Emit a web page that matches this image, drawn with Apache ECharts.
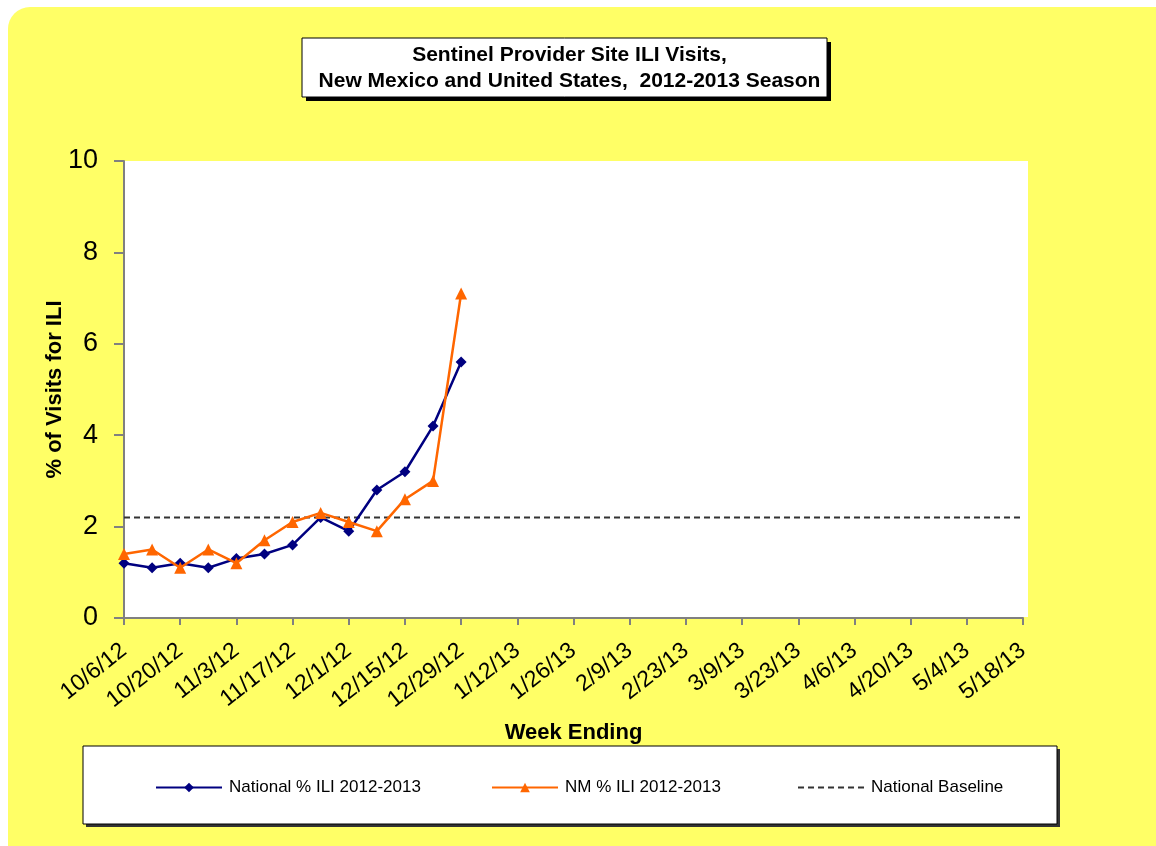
<!DOCTYPE html>
<html>
<head>
<meta charset="utf-8">
<script src="https://cdn.jsdelivr.net/npm/echarts@6/dist/echarts.min.js"></script>
<style>
html,body{margin:0;padding:0;background:#fff;}
#chart{width:1156px;height:846px;}
</style>
</head>
<body>
<div id="chart"></div>
<script>
const weeks = ["10/6/12","10/13/12","10/20/12","10/27/12","11/3/12","11/10/12","11/17/12","11/24/12","12/1/12","12/8/12","12/15/12","12/22/12","12/29/12","1/5/13","1/12/13","1/19/13","1/26/13","2/2/13","2/9/13","2/16/13","2/23/13","3/2/13","3/9/13","3/16/13","3/23/13","3/30/13","4/6/13","4/13/13","4/20/13","4/27/13","5/4/13","5/11/13","5/18/13"];
const nationalILI = [1.2,1.1,1.2,1.1,1.3,1.4,1.6,2.2,1.9,2.8,3.2,4.2,5.6];
const nmILI = [1.4,1.5,1.1,1.5,1.2,1.7,2.1,2.3,2.1,1.9,2.6,3.0,7.1];
const nationalBaseline = 2.2;
const yTicks = {min:0, max:10, interval:2};
const titleLines = ["Sentinel Provider Site ILI Visits,", "New Mexico and United States,  2012-2013 Season"];
const seriesNames = ["National % ILI 2012-2013", "NM % ILI 2012-2013", "National Baseline"];

const chart = echarts.init(document.getElementById('chart'), null, {renderer:'canvas'});
const FONT = 'Liberation Sans, Arial, sans-serif';
const baselineData = [[weeks[0], nationalBaseline], [weeks[weeks.length-1], nationalBaseline]];

const legendBase = {
  orient:'horizontal', top: 774, itemWidth: 66, itemHeight: 12, itemGap: 0,
  textStyle:{fontFamily:FONT, fontSize:17, color:'#000', padding:[0,0,0,2]},
  selectedMode:false
};

chart.setOption({
  backgroundColor:'#fff',
  animation:false,
  graphic:[
    {type:'rect', z:-10, shape:{x:8,y:7,width:1170,height:860,r:22}, style:{fill:'#FFFF66'}},
    {type:'rect', z:-5, shape:{x:1020,y:161,width:8,height:456}, style:{fill:'#fff'}},
    {type:'rect', z:-5, shape:{x:306,y:42,width:525,height:59}, style:{fill:'#000'}},
    {type:'rect', z:-4, shape:{x:302,y:38,width:525,height:59}, style:{fill:'#fff', stroke:'#000', lineWidth:1}},
    {type:'rect', z:-5, shape:{x:86,y:749,width:974,height:78}, style:{fill:'#333'}},
    {type:'rect', z:-4, shape:{x:83,y:746,width:974,height:78}, style:{fill:'#fff', stroke:'#000', lineWidth:1}}
  ],
  title:{
    text: titleLines.join('\n'),
    left: 564.5, top: 37, textAlign:'center',
    textStyle:{fontFamily:FONT, fontWeight:'bold', fontSize:21, color:'#000', lineHeight:26}
  },
  legend:[
    Object.assign({}, legendBase, {left:150, data:[seriesNames[0]]}),
    Object.assign({}, legendBase, {left:486, data:[seriesNames[1]]}),
    Object.assign({}, legendBase, {left:792, data:[seriesNames[2]], itemStyle:{opacity:0}})
  ],
  grid:{left:124, right:133, top:161, bottom:228, show:true, backgroundColor:'#fff', borderWidth:0},
  xAxis:{
    type:'category', data:weeks, boundaryGap:false,
    name:'Week Ending', nameLocation:'middle', nameGap:104, nameMoveOverlap:false,
    nameTextStyle:{fontFamily:FONT, fontWeight:'bold', fontSize:22, color:'#000'},
    axisLine:{lineStyle:{color:'#808080', width:2}},
    axisTick:{interval:1, length:7, lineStyle:{color:'#808080', width:2}},
    axisLabel:{interval:1, rotate:38, margin:30, fontFamily:FONT, fontSize:23, color:'#000'},
    splitLine:{show:false}
  },
  yAxis:{
    type:'value', min:yTicks.min, max:yTicks.max, interval:yTicks.interval,
    name:'% of Visits for ILI', nameLocation:'middle', nameRotate:90, nameGap:58, nameMoveOverlap:false,
    nameTextStyle:{fontFamily:FONT, fontWeight:'bold', fontSize:22, color:'#000'},
    axisLine:{show:true, lineStyle:{color:'#808080', width:2}},
    axisTick:{show:true, length:10, lineStyle:{color:'#808080', width:2}},
    axisLabel:{margin:26, fontFamily:FONT, fontSize:27, color:'#000'},
    splitLine:{show:false}
  },
  series:[
    {name:seriesNames[0], type:'line', data:nationalILI, color:'#000080',
     symbol:'diamond', symbolSize:11, lineStyle:{width:2.5, color:'#000080'},
     itemStyle:{color:'#000080'}, z:3},
    {name:seriesNames[1], type:'line', data:nmILI, color:'#FF6600',
     symbol:'triangle', symbolSize:12, lineStyle:{width:2.5, color:'#FF6600'},
     itemStyle:{color:'#FF6600'}, z:4},
    {name:seriesNames[2], type:'line', data:baselineData, color:'#333',
     symbol:'none', lineStyle:{width:2, type:[6,4], color:'#333'}, z:2}
  ]
});
</script>
</body>
</html>
